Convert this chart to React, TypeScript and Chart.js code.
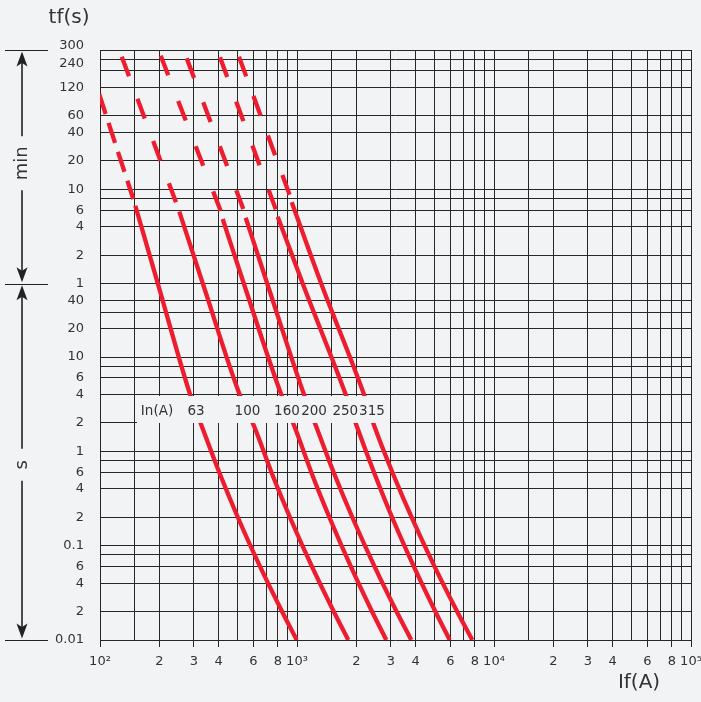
import React, { useEffect, useRef } from 'react';
import { Chart, registerables } from 'chart.js';

Chart.register(...registerables);

// ---------------- data ----------------
const ratings = ['63', '100', '160', '200', '250', '315'];

// upper (dashed) part of every curve: current (A) / time (s)
const dashI63 = [99, 147.6];
const dashT63 = [6150, 474];
const dashI100 = [128.9, 243.1];
const dashT100 = [15300, 437];
const dashI160 = [203.3, 409.5];
const dashT160 = [15670, 356];
const dashI200 = [275.5, 533.8];
const dashT200 = [14700, 371];
const dashI250 = [406.6, 782.4];
const dashT250 = [15070, 362];
const dashI315 = [507.6, 921];
const dashT315 = [15300, 513.5];

// lower (solid) part of every curve: current (A) / time (s)
const solidT = [0, 58, 3.74, 1.857, 0.5615, 0.1872, 0.0599, 0.01967, 0.01];
const solidStartT = [402, 347.5, 290.8, 300, 307.6, 437];
const solidI63 = [151.1, 197.6, 289.7, 328.3, 408, 507.6, 649.8, 843.2, 996.6];
const solidI100 = [252.7, 334.5, 517.8, 605, 750.9, 933.4, 1191.6, 1543, 1821];
const solidI160 = [419.6, 540, 842, 968.9, 1196, 1479.5, 1877.7, 2413.8, 2840];
const solidI200 = [549, 710, 1098, 1248.6, 1554, 1935.7, 2477, 3215, 3803];
const solidI250 = [798, 1076, 1788, 2009, 2488.7, 3078.6, 3921, 5059, 5960];
const solidI315 = [940, 1335, 2214, 2468.6, 3089, 3871, 4994.5, 6527, 7759];

// axis ticks
const xTickValues = [
  100, 150, 200, 300, 400, 500, 600, 700, 800, 900,
  1000, 1500, 2000, 3000, 4000, 5000, 6000, 7000, 8000, 9000,
  10000, 15000, 20000, 30000, 40000, 50000, 60000, 70000, 80000, 90000,
  100000,
];
const xTickLabels = [
  '10²', '', '2', '3', '4', '', '6', '', '8', '',
  '10³', '', '2', '3', '4', '', '6', '', '8', '',
  '10⁴', '', '2', '3', '4', '', '6', '', '8', '',
  '10⁵',
];
const yTickValues = [
  0.01, 0.02, 0.04, 0.06, 0.08, 0.1, 0.2, 0.4, 0.6, 0.8,
  1, 2, 4, 6, 8, 10, 20, 30, 40, 60,
  120, 240, 360, 480, 600, 1200, 2400, 3600, 7200, 10800,
  14400, 18000,
];
const yTickLabels: (string | string[])[] = [
  '0.01', '2', '4', '6', '', '0.1', '2', '4', '6', '',
  '1', '2', '4', '6', '', '10', '20', '', '40', '1',
  '2', '4', '6', '', '10', '20', '40', '60', '120', '',
  ['', '240'], ['300', ''],
];

// rating labels in the box
const boxLabels = ['In(A)', '63', '100', '160', '200', '250', '315'];
const boxLabelAt = [194.7, 307, 560.7, 889, 1220, 1759, 2403];

// ---------------- styles ----------------
const BG = '#f2f3f5';
const GRID = '#272727';
const TEXT = '#333333';
const RED = '#ed1c2e';
const LINE_W = 4.3;
const DASH_LEN = 21;
const DASH_GAPS = [9.4, 24, 27.5, 26, 26, 21];
const FONT = '"DejaVu Sans", Verdana, sans-serif';

const dashI = [dashI63, dashI100, dashI160, dashI200, dashI250, dashI315];
const dashT = [dashT63, dashT100, dashT160, dashT200, dashT250, dashT315];
const solidI = [solidI63, solidI100, solidI160, solidI200, solidI250, solidI315];

function arrowHead(ctx: CanvasRenderingContext2D, x: number, tipY: number, dir: number) {
  // dir = -1 points up, +1 points down
  const h = 15;
  const w = 5.5;
  const notch = 3.5;
  const baseY = tipY - dir * h;
  ctx.beginPath();
  ctx.moveTo(x, tipY);
  ctx.lineTo(x - w, baseY);
  ctx.lineTo(x, baseY + dir * notch);
  ctx.lineTo(x + w, baseY);
  ctx.closePath();
  ctx.fill();
}

const overlayPlugin = {
  id: 'overlay',
  beforeDraw(chart: any) {
    const { ctx, width, height } = chart;
    ctx.save();
    ctx.fillStyle = BG;
    ctx.fillRect(0, 0, width, height);
    ctx.restore();
  },
  afterDatasetsDraw(chart: any) {
    const { ctx } = chart;
    const xs = chart.scales.x;
    const ys = chart.scales.y;
    const top = Math.round(ys.getPixelForValue(4));
    const bot = Math.round(ys.getPixelForValue(2));
    const left = Math.round(xs.getPixelForValue(150));
    const right = Math.round(xs.getPixelForValue(3000));
    ctx.save();
    ctx.fillStyle = BG;
    ctx.fillRect(left + 2, top + 1, right - left - 3, bot - top - 1);
    ctx.fillStyle = TEXT;
    ctx.font = `13.5px ${FONT}`;
    ctx.textAlign = 'center';
    ctx.textBaseline = 'middle';
    const ym = (top + bot) / 2 + 2;
    boxLabels.forEach((s, i) => {
      ctx.fillText(s, xs.getPixelForValue(boxLabelAt[i]), ym);
    });
    ctx.restore();
  },
  afterDraw(chart: any) {
    const { ctx, chartArea } = chart;
    const ys = chart.scales.y;
    ctx.save();
    ctx.fillStyle = TEXT;
    ctx.strokeStyle = '#222';
    ctx.textAlign = 'center';
    ctx.textBaseline = 'middle';
    ctx.font = `20px ${FONT}`;
    ctx.fillText('tf(s)', chartArea.left - 31, chartArea.top - 32);
    ctx.fillText('If(A)', chartArea.right - 52, chartArea.bottom + 43);

    const yTop = ys.getPixelForValue(18000);
    const yMid = ys.getPixelForValue(60);
    const yBot = ys.getPixelForValue(0.01);
    const ax = 22;
    ctx.lineWidth = 1.2;
    [yTop, yMid, yBot].forEach((yy) => {
      const r = Math.round(yy) + 0.5;
      ctx.beginPath();
      ctx.moveTo(5, r);
      ctx.lineTo(48, r);
      ctx.stroke();
    });
    const c1 = (yTop + yMid) / 2 - 3.5;
    const c2 = (yMid + yBot) / 2 + 3;
    ctx.lineWidth = 1.6;
    const seg = (a: number, b: number) => {
      ctx.beginPath();
      ctx.moveTo(ax, a);
      ctx.lineTo(ax, b);
      ctx.stroke();
    };
    seg(yTop + 10, c1 - 27);
    seg(c1 + 27, yMid - 10);
    seg(yMid + 10, c2 - 16);
    seg(c2 + 16, yBot - 10);
    ctx.fillStyle = '#222';
    arrowHead(ctx, ax, yTop + 1.5, -1);
    arrowHead(ctx, ax, yMid - 1.5, 1);
    arrowHead(ctx, ax, yMid + 1.5, -1);
    arrowHead(ctx, ax, yBot - 1.5, 1);

    ctx.fillStyle = TEXT;
    ctx.font = `18px ${FONT}`;
    ctx.save();
    ctx.translate(ax, c1);
    ctx.rotate(-Math.PI / 2);
    ctx.fillText('min', 0, 0);
    ctx.restore();
    ctx.save();
    ctx.translate(ax, c2);
    ctx.rotate(-Math.PI / 2);
    ctx.fillText('s', 0, 0);
    ctx.restore();
    ctx.restore();
  },
};

export default function App() {
  const ref = useRef<HTMLCanvasElement>(null);

  useEffect(() => {
    const canvas = ref.current;
    if (!canvas) return;
    const datasets: any[] = [];
    ratings.forEach((r, k) => {
      datasets.push({
        label: `${r} A (upper)`,
        data: dashI[k].map((x, i) => ({ x, y: dashT[k][i] })),
        borderColor: RED,
        borderWidth: LINE_W,
        borderDash: [DASH_LEN, DASH_GAPS[k]],
        borderCapStyle: 'butt',
        pointRadius: 0,
        fill: false,
        tension: 0,
      });
      datasets.push({
        label: `${r} A`,
        data: solidI[k].map((x, i) => ({ x, y: i === 0 ? solidStartT[k] : solidT[i] })),
        borderColor: RED,
        borderWidth: LINE_W,
        borderCapStyle: 'butt',
        borderJoinStyle: 'round',
        pointRadius: 0,
        fill: false,
        cubicInterpolationMode: 'monotone',
      });
    });

    const chart = new Chart(canvas, {
      type: 'line',
      data: { datasets },
      options: {
        animation: false,
        responsive: false,
        maintainAspectRatio: false,
        layout: { padding: { top: 50, left: 0, right: 29, bottom: 0 } },
        plugins: {
          legend: { display: false },
          tooltip: { enabled: false },
          title: { display: false },
        },
        scales: {
          x: {
            type: 'logarithmic',
            min: 100,
            max: 100000,
            afterBuildTicks: (s: any) => {
              s.ticks = xTickValues.map((v) => ({ value: v }));
            },
            afterFit: (s: any) => {
              s.height = 62;
            },
            grid: {
              color: GRID,
              lineWidth: 1,
              tickLength: 7,
              tickColor: (c: any) => (xTickLabels[c.index] ? GRID : 'rgba(0,0,0,0)'),
            },
            border: { display: false },
            ticks: {
              autoSkip: false,
              maxRotation: 0,
              minRotation: 0,
              padding: 7,
              color: TEXT,
              font: { family: FONT, size: 13 },
              callback: (_v: any, i: number) => xTickLabels[i],
            },
          },
          y: {
            type: 'logarithmic',
            min: 0.01,
            max: 18000,
            afterBuildTicks: (s: any) => {
              s.ticks = yTickValues.map((v) => ({ value: v }));
            },
            afterFit: (s: any) => {
              s.width = 100;
            },
            grid: { color: GRID, lineWidth: 1, drawTicks: false },
            border: { display: false },
            ticks: {
              autoSkip: false,
              padding: 16,
              color: TEXT,
              font: { family: FONT, size: 13, lineHeight: 0.75 },
              callback: (_v: any, i: number) => yTickLabels[i],
            },
          },
        },
      } as any,
      plugins: [overlayPlugin],
    });
    return () => chart.destroy();
  }, []);

  return (
    <div
      style={{
        position: 'absolute',
        left: 0,
        top: 0,
        width: 701,
        height: 702,
        overflow: 'hidden',
        background: BG,
      }}
    >
      <canvas ref={ref} width={720} height={702} style={{ display: 'block' }} />
    </div>
  );
}
